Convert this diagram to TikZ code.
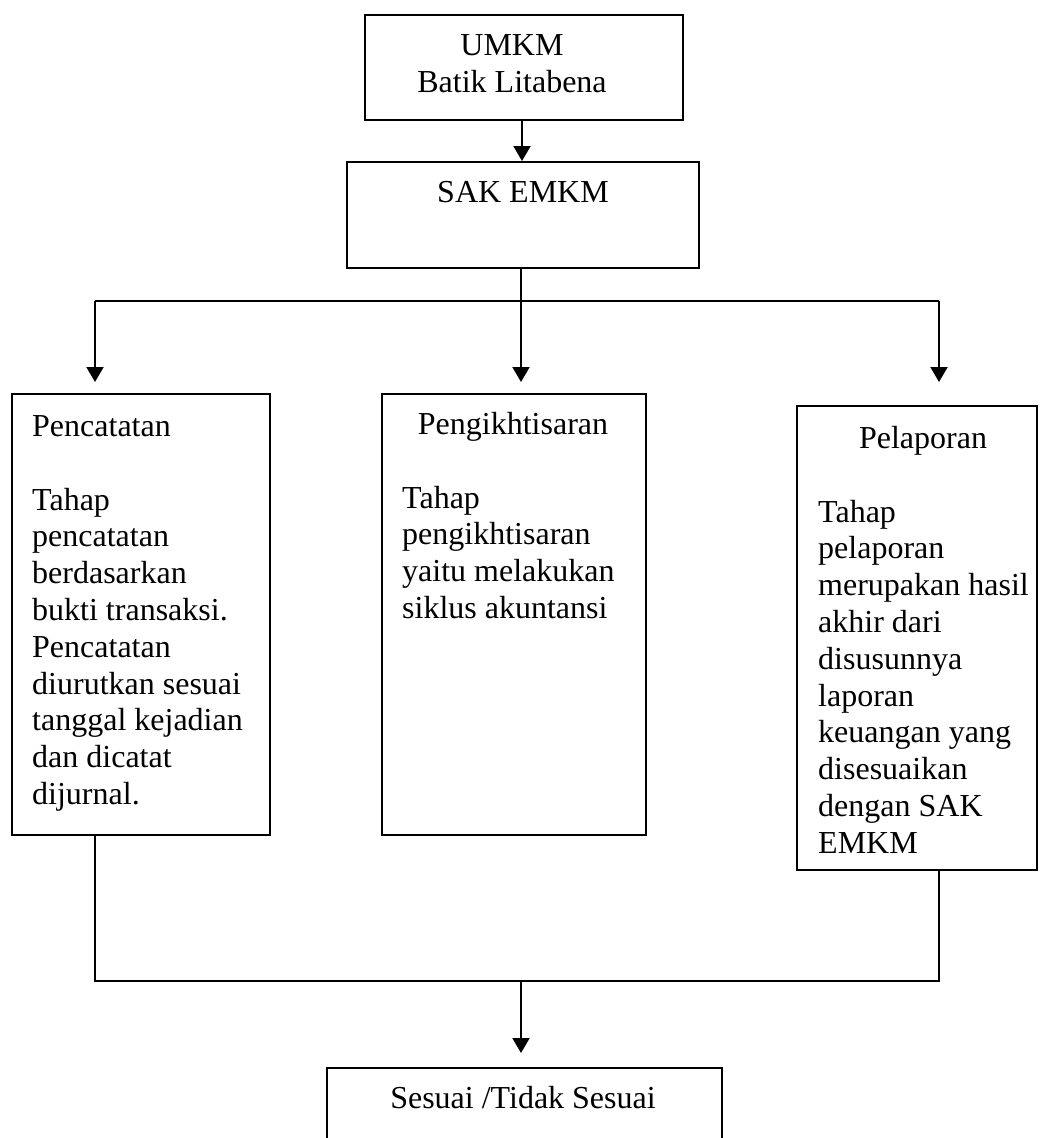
\documentclass[tikz,border=0pt]{standalone}
\usepackage{fontspec}
\setmainfont{Liberation Serif}
\usetikzlibrary{arrows.meta,calc}
\begin{document}
\begin{tikzpicture}[x=1pt,y=-1pt,
  box/.style={draw, line width=2pt, inner sep=0pt, anchor=north west},
  txt/.style={inner sep=0pt, font=\fontsize{32}{36.8}\selectfont},
  conn/.style={line width=2pt},
  arr/.style={line width=2pt, -{Triangle[width=17pt,length=15pt]}}]
\useasboundingbox (0,0) rectangle (1040,1138);
% boxes
\node[box, minimum width=318pt, minimum height=105pt] (umkm) at (364,14) {};
\node[box, minimum width=352pt, minimum height=106pt] (sak) at (346,161) {};
\node[box, minimum width=258pt, minimum height=441pt] (pl) at (11,393) {};
\node[box, minimum width=264pt, minimum height=441pt] (pm) at (381,393) {};
\node[box, minimum width=240pt, minimum height=464pt] (pr) at (796,405) {};
\node[box, minimum width=395pt, minimum height=120pt] (hasil) at (326,1067) {};
% texts
\node[txt, align=center] (umkmt) at (512,63.5) {UMKM\\Batik Litabena};
\node[txt, anchor=base] (sakt) at (523,202.6) {SAK EMKM};
\node[txt, anchor=base west] (plh) at (32,436) {Pencatatan};
\node[txt, anchor=north west, align=left] (plb) at (32,487.7)
  {Tahap\\pencatatan\\berdasarkan\\bukti transaksi.\\Pencatatan\\diurutkan sesuai\\tanggal kejadian\\dan dicatat\\dijurnal.};
\node[txt, anchor=base] (pmh) at (513,434) {Pengikhtisaran};
\node[txt, anchor=north west, align=left] (pmb) at (402,485.7)
  {Tahap\\pengikhtisaran\\yaitu melakukan\\siklus akuntansi};
\node[txt, anchor=base] (prh) at (923,448) {Pelaporan};
\node[txt, anchor=north west, align=left] (prb) at (818,499.7)
  {Tahap\\pelaporan\\merupakan hasil\\akhir dari\\disusunnya\\laporan\\keuangan yang\\disesuaikan\\dengan SAK\\EMKM};
\node[txt, anchor=base] (hasilt) at (523,1108.6) {Sesuai /Tidak Sesuai};
% junction coordinates
\coordinate (jm) at (521,301);
\coordinate (jl) at (95,301);
\coordinate (jr) at (939,301);
\coordinate (bm) at (521,981);
\coordinate (bl) at (95,981);
\coordinate (br) at (939,981);
% connectors
\draw[arr] (umkm.south -| 522,0) -- (sak.north -| 522,0);
\draw[conn] (sak.south -| jm) -- (jm);
\draw[conn] (jl) -- (jr);
\draw[arr, shorten >=11pt] (jl) -- (jl |- pl.north);
\draw[arr, shorten >=11pt] (jm) -- (jm |- pm.north);
\draw[arr, shorten >=23pt] (jr) -- (jr |- pr.north);
\draw[conn] (jl |- pl.south) -- (bl) -- (br) -- (jr |- pr.south);
\draw[arr, shorten >=14pt] (bm) -- (bm |- hasil.north);
\end{tikzpicture}
\end{document}
